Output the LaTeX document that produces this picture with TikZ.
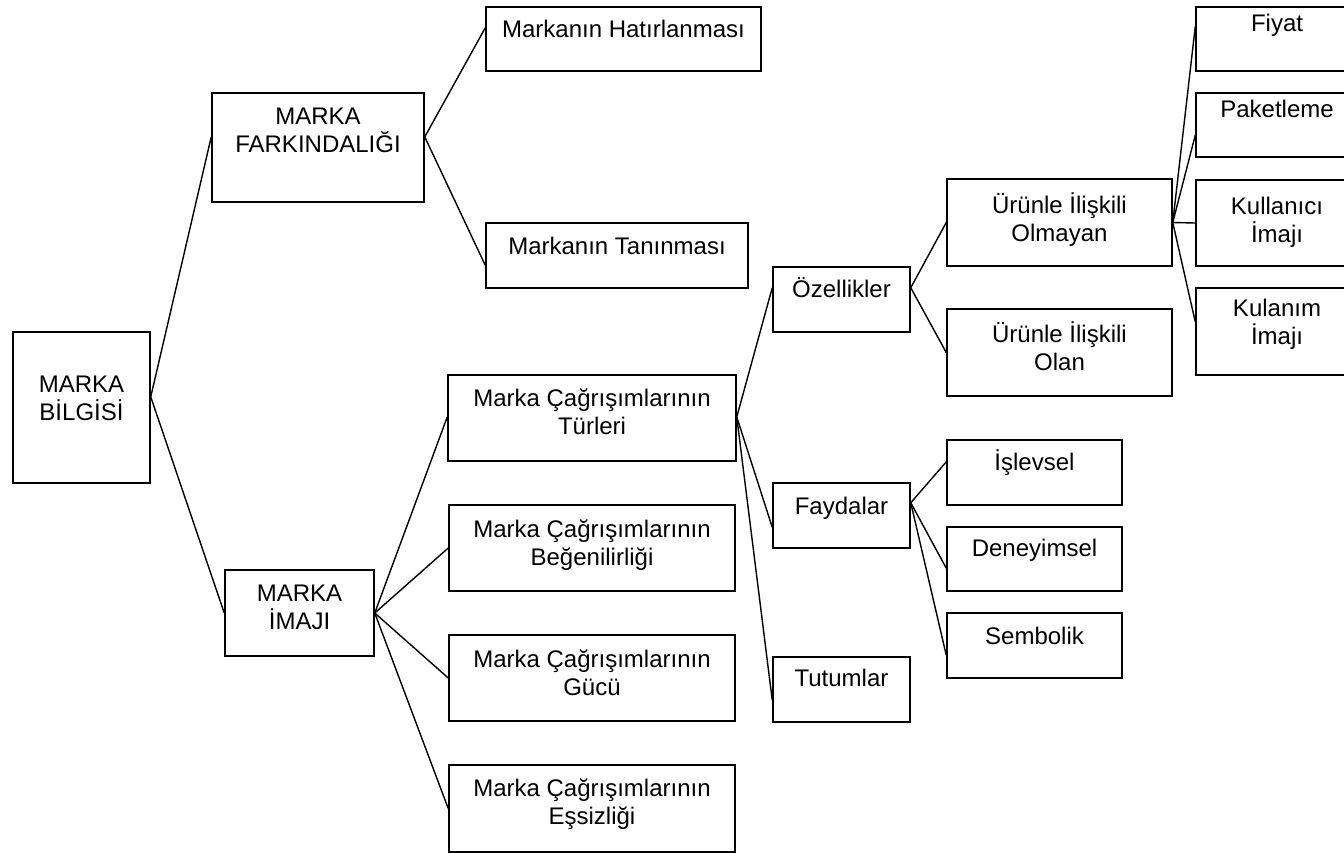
\documentclass[tikz,border=0pt]{standalone}
\usepackage{fontspec}
\setmainfont{Liberation Sans}
\usetikzlibrary{fit,calc}

% invisible strut fixing the top of the first text line 12pt above its baseline
\newcommand\tstrut{\rule{0pt}{12pt}}
% \mkbox{name}{x1}{y1}{x2}{y2}{first baseline below top}{text}
\newcommand\mkbox[7]{%
  \node[box, fit={(#2,#3) (#4,#5)}] (#1) {};
  \node[txt] (#1-t) at ([yshift={12pt-#6*0.5pt}]#1.north) {\tstrut #7};}
% \mklink{from}{fraction down right edge}{to}{fraction down left edge}
\newcommand\mklink[4]{%
  \draw[conn] ($(#1.north east)!#2!(#1.south east)$) -- ($(#3.north west)!#4!(#3.south west)$);}

\begin{document}
\begin{tikzpicture}[x=0.5pt,y=-0.5pt,
  box/.style={draw, line width=0.75pt, inner sep=0pt},
  txt/.style={font=\fontsize{12}{14}\selectfont, align=center, inner sep=0pt, anchor=north},
  conn/.style={line width=0.7pt}]
\useasboundingbox (0,0) rectangle (1344,853);

% level 0
\mkbox{bilgi}{13}{332}{150}{483}{61}{MARKA\\BİLGİSİ}
% level 1
\mkbox{fark}{212}{93}{424}{202}{32}{MARKA\\FARKINDALIĞI}
\mkbox{imaj}{225}{570}{374}{656}{32}{MARKA\\İMAJI}
% level 2
\mkbox{hatir}{486}{7}{761}{71}{31}{Markanın Hatırlanması}
\mkbox{tanin}{486}{223}{748}{288}{32}{Markanın Tanınması}
\mkbox{turler}{448}{375}{736}{461}{32}{Marka Çağrışımlarının\\Türleri}
\mkbox{begen}{449}{505}{735}{591}{33}{Marka Çağrışımlarının\\Beğenilirliği}
\mkbox{gucu}{449}{635}{735}{721}{33}{Marka Çağrışımlarının\\Gücü}
\mkbox{essiz}{449}{765}{735}{852}{32}{Marka Çağrışımlarının\\Eşsizliği}
% level 3
\mkbox{ozel}{773}{267}{910}{332}{31}{Özellikler}
\mkbox{fayda}{773}{483}{910}{548}{32}{Faydalar}
\mkbox{tutum}{773}{657}{910}{722}{30}{Tutumlar}
% level 4
\mkbox{olmayan}{947}{179}{1172}{266}{35}{Ürünle İlişkili\\Olmayan}
\mkbox{olan}{947}{309}{1172}{396}{34}{Ürünle İlişkili\\Olan}
\mkbox{islev}{947}{440}{1122}{505}{31}{İşlevsel}
\mkbox{deney}{947}{527}{1122}{591}{30}{Deneyimsel}
\mkbox{sembol}{947}{613}{1122}{678}{32}{Sembolik}
% level 5
\mkbox{fiyat}{1196}{7}{1358}{71}{25}{Fiyat}
\mkbox{paket}{1196}{93}{1358}{157}{25}{Paketleme}
\mkbox{kullanici}{1196}{180}{1358}{266}{35}{Kullanıcı\\İmajı}
\mkbox{kulanim}{1196}{288}{1358}{375}{29}{Kulanım\\İmajı}

% connectors
\mklink{bilgi}{0.43}{fark}{0.404}
\mklink{bilgi}{0.43}{imaj}{0.5}
\mklink{fark}{0.404}{hatir}{0.33}
\mklink{fark}{0.404}{tanin}{0.646}
\mklink{imaj}{0.5}{turler}{0.488}
\mklink{imaj}{0.5}{begen}{0.5}
\mklink{imaj}{0.5}{gucu}{0.5}
\mklink{imaj}{0.5}{essiz}{0.5}
\mklink{turler}{0.488}{ozel}{0.323}
\mklink{turler}{0.488}{fayda}{0.677}
\mklink{turler}{0.488}{tutum}{0.66}
\mklink{ozel}{0.323}{olmayan}{0.5}
\mklink{ozel}{0.323}{olan}{0.5}
\mklink{olmayan}{0.5}{fiyat}{0.31}
\mklink{olmayan}{0.5}{paket}{0.656}
\mklink{olmayan}{0.5}{kullanici}{0.5}
\mklink{olmayan}{0.5}{kulanim}{0.39}
\mklink{fayda}{0.308}{islev}{0.34}
\mklink{fayda}{0.308}{deney}{0.64}
\mklink{fayda}{0.308}{sembol}{0.646}
\end{tikzpicture}
\end{document}
